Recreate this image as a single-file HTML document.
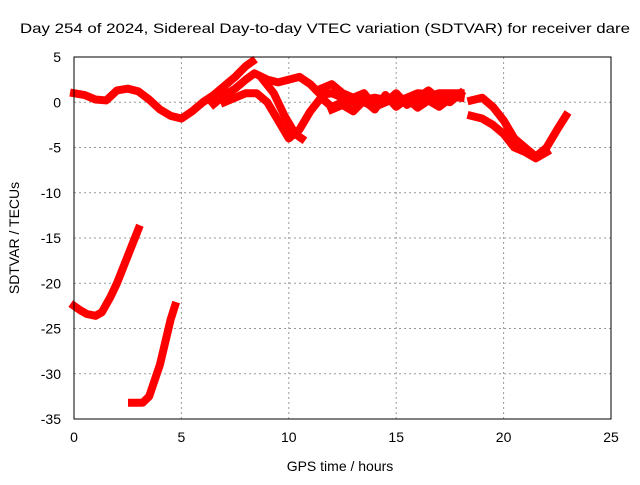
<!DOCTYPE html>
<html><head><meta charset="utf-8"><style>
body{margin:0;background:#fff}
svg text{font-family:"Liberation Sans",sans-serif;font-size:14px;fill:#000}
</style></head><body>
<svg id="c" width="640" height="480">
<text x="20" y="33" textLength="610" lengthAdjust="spacingAndGlyphs">Day 254 of 2024, Sidereal Day-to-day VTEC variation (SDTVAR) for receiver dare</text>
<text x="340" y="471" text-anchor="middle">GPS time / hours</text>
<text transform="translate(19,238) rotate(-90)" text-anchor="middle">SDTVAR / TECUs</text>
<g id="grid"></g><g id="marks"></g>
<rect x="74" y="57" width="537" height="362" fill="none" stroke="#000"/>
</svg>
<script>
const xTicks=[0,5,10,15,20,25];
const yTicks=[5,0,-5,-10,-15,-20,-25,-30,-35];
const trackMainT=[0,0.5,1,1.5,2,2.5,3,3.5,4,4.5,5,5.5,6,6.5,7,7.5,8,8.3];
const trackMainV=[1,0.8,0.3,0.2,1.3,1.5,1.2,0.3,-0.8,-1.5,-1.8,-1,0,0.8,1.8,2.8,4,4.5];
const trackBT=[6.5,7,7.5,8,8.4,9,9.5,10,10.5,11,11.5,12,13,14,15,16,17,18];
const trackBV=[-0.2,0.8,1.5,2.5,3.2,2.5,2.2,2.5,2.8,2,0.8,1,0,0.5,0,1,0.8,0.5];
const trackCT=[7,7.5,8,8.5,9,9.5,10,10.5,11,11.5,12,13,14,15,16,17,18];
const trackCV=[0,0.5,1,1,0,-2,-4,-3,-1,0.5,-0.5,0.5,-0.5,0.5,0.2,1,1];
const trackDT=[8.8,9.3,9.8,10.3,10.6];
const trackDV=[2.5,1,-1.5,-3.5,-4];
const trackKT=[11.5,12,12.5,13,13.5,14,14.5,15,15.5,16,16.5,17,17.5,18];
const trackKV=[1.5,2,1,0.5,1,-0.5,0,1,-0.3,0.5,1.3,0.3,0,1];
const trackLT=[12,12.5,13,13.5,14,14.5,15,15.5,16,16.5,17,17.5];
const trackLV=[-0.8,-0.3,-1,0.2,-0.8,0.8,-0.5,0.4,-0.6,0.2,-0.5,0.4];
const trackET=[18.5,19,19.5,20,20.5,21,21.5,22,22.5,22.9];
const trackEV=[0.2,0.5,-0.5,-2,-4,-5,-6,-5,-3,-1.5];
const trackFT=[18.5,19,19.5,20,20.5,21,21.5,22];
const trackFV=[-1.5,-1.8,-2.5,-3.5,-5,-5.5,-6.2,-5.5];
const trackGT=[0,0.3,0.6,1,1.3,1.7,2,2.5,3];
const trackGV=[-22.5,-23,-23.4,-23.6,-23.2,-21.5,-20,-17,-14];
const trackHT=[2.7,3.2,3.5,4,4.5,4.7];
const trackHV=[-33.2,-33.2,-32.5,-29,-24,-22.5];
const tracks=[[trackMainT,trackMainV],[trackBT,trackBV],[trackCT,trackCV],[trackDT,trackDV],[trackKT,trackKV],[trackLT,trackLV],[trackET,trackEV],[trackFT,trackFV],[trackGT,trackGV],[trackHT,trackHV]];
const X=v=>74+v*537/25, Y=v=>57+(5-v)*362/40;
const NS='http://www.w3.org/2000/svg';
const g=document.getElementById('grid'), m=document.getElementById('marks');
function mk(tag,attrs,parent){const e=document.createElementNS(NS,tag);for(const k in attrs)e.setAttribute(k,attrs[k]);parent.appendChild(e);return e;}
xTicks.forEach(t=>{
  if(t>0&&t<25){const l=mk('line',{x1:X(t),x2:X(t),y1:57,y2:419,stroke:'#999','stroke-dasharray':'2,3'},g);
  
  }
  const s=mk('text',{x:X(t),y:442,'text-anchor':'middle'},g);s.textContent=t;
  
  
});
yTicks.forEach(t=>{
  if(t<5&&t>-35){const l=mk('line',{x1:74,x2:611,y1:Y(t),y2:Y(t),stroke:'#999','stroke-dasharray':'2,3'},g);
  
  }
  const s=mk('text',{x:61,y:Y(t)+5,'text-anchor':'end'},g);s.textContent=t;
  
  
});
tracks.forEach(([ts,vs])=>{
  const p=mk('polyline',{points:ts.map((t,i)=>X(t)+','+Y(vs[i])).join(' '),fill:'none',stroke:'#f00','stroke-width':8,'stroke-linejoin':'round','stroke-linecap':'square'},m);
  
  
});
</script>
</body></html>
